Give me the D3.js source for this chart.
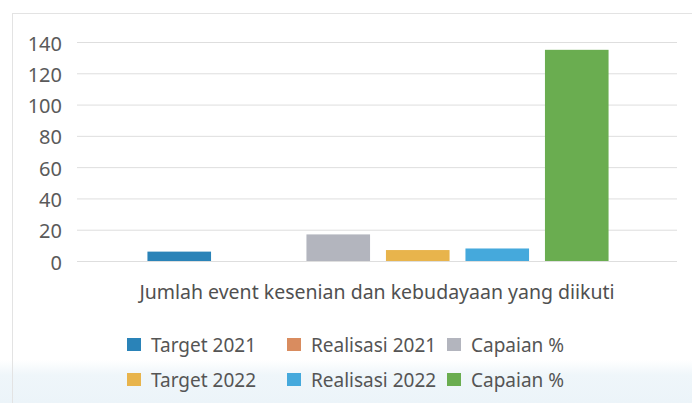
<!DOCTYPE html>
<html>
<head>
<meta charset="utf-8">
<script src="https://cdn.jsdelivr.net/npm/d3@7"></script>
<style>
  html, body { margin: 0; padding: 0; background: #fff; }
  svg { display: block; }
  text { font-family: "Noto Sans", "Open Sans", sans-serif; }
</style>
</head>
<body>
<svg id="chart" width="692" height="403"></svg>
<script>
const categories = ["Jumlah event kesenian dan kebudayaan yang diikuti"];
const seriesNames = ["Target 2021", "Realisasi 2021", "Capaian %", "Target 2022", "Realisasi 2022", "Capaian % "];
const seriesValues = [6, 0, 17, 7, 8, 135];
const seriesColors = ["#2a83b8", "#d98c5f", "#b3b5be", "#e8b44c", "#45a9dc", "#6aad50"];
const yTicks = [0, 20, 40, 60, 80, 100, 120, 140];

const svg = d3.select("#chart");
const W = 692, H = 403;

// background tint at bottom and faint frame (scan look)
const grad = svg.append("defs").append("linearGradient").attr("id", "band").attr("x1", 0).attr("y1", 0).attr("x2", 0).attr("y2", 1);
grad.append("stop").attr("offset", 0).attr("stop-color", "#ffffff");
grad.append("stop").attr("offset", 0.35).attr("stop-color", "#eff6fa");
grad.append("stop").attr("offset", 1).attr("stop-color", "#ecf4f9");
svg.append("rect").attr("x", 0).attr("y", 360).attr("width", W).attr("height", H - 360).attr("fill", "url(#band)");
svg.append("rect").attr("x", 12.5).attr("y", 13.5).attr("width", W - 12).attr("height", 400)
  .attr("fill", "none").attr("stroke", "#e3e3e3");

const plot = { left: 77, right: 679, top: 42, bottom: 261 };

const y = d3.scaleLinear().domain([0, 140]).range([plot.bottom, plot.top]);
const x0 = d3.scaleBand().domain(categories).range([plot.left, plot.right]).paddingInner(0).paddingOuter(0.131);
const x1 = d3.scaleBand().domain(seriesNames).range([0, x0.bandwidth()]).paddingInner(0.2).paddingOuter(0.1);

// gridlines
const yAxis = d3.axisLeft(y).tickValues(yTicks).tickSize(-(plot.right - 2 - plot.left)).tickPadding(15).tickFormat(d3.format("d"));
const gy = svg.append("g").attr("transform", `translate(${plot.left},0)`).call(yAxis);
gy.select(".domain").remove();
gy.selectAll(".tick line").attr("stroke", "#dedede").attr("stroke-width", 1);
gy.selectAll(".tick text").attr("fill", "#5a5a5a").style("font-size", "20px").attr("dy", "0.4em");

// bars
const g = svg.append("g");
categories.forEach(cat => {
  seriesNames.forEach((s, i) => {
    const v = seriesValues[i];
    g.append("rect")
      .attr("x", x0(cat) + x1(s))
      .attr("y", y(v))
      .attr("width", x1.bandwidth())
      .attr("height", y(0) - y(v))
      .attr("fill", seriesColors[i]);
  });
});

// category label
svg.append("text")
  .attr("x", 377)
  .attr("y", 299)
  .attr("text-anchor", "middle")
  .attr("fill", "#505050")
  .style("font-size", "19.5px")
  .text(categories[0]);

// legend
const legCols = [127, 287, 447];
const legRows = [345, 380];
seriesNames.forEach((s, i) => {
  const col = i % 3, row = Math.floor(i / 3);
  const lx = legCols[col], ly = legRows[row];
  svg.append("rect").attr("x", lx).attr("y", ly - 7).attr("width", 14).attr("height", 13).attr("fill", seriesColors[i]);
  svg.append("text").attr("x", lx + 24).attr("y", ly + 7)
    .attr("fill", "#555")
    .style("font-size", "19px")
    .text(s.trim());
});
</script>
</body>
</html>
